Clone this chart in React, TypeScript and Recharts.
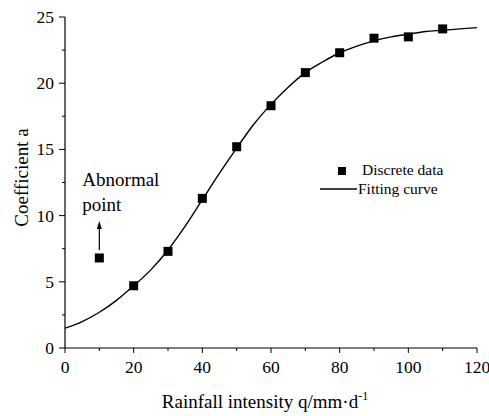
import React from "react";
import { ComposedChart, Line, Scatter, XAxis, YAxis, ReferenceLine } from "recharts";

// measured coefficient a per rainfall intensity
const rainfall = [10, 20, 30, 40, 50, 60, 70, 80, 90, 100, 110];
const coefficient = [6.8, 4.7, 7.3, 11.3, 15.2, 18.3, 20.8, 22.3, 23.4, 23.5, 24.1];

// fitted curve
const curveX = [0, 5, 10, 15, 20, 25, 30, 35, 40, 45, 50, 55, 60, 65, 70, 75, 80, 85, 90, 95, 100, 105, 110, 115, 120];
const curveY = [1.5, 2.0, 2.7, 3.6, 4.7, 5.9, 7.4, 9.2, 11.2, 13.2, 15.1, 16.9, 18.4, 19.7, 20.8, 21.6, 22.3, 22.8, 23.2, 23.5, 23.7, 23.9, 24.0, 24.1, 24.2];

const xTicks = [0, 10, 20, 30, 40, 50, 60, 70, 80, 90, 100, 110, 120];
const yTicks = [0, 2.5, 5, 7.5, 10, 12.5, 15, 17.5, 20, 22.5, 25];

const points = rainfall.map((x, i) => ({ x, y: coefficient[i] }));
const curve = curveX.map((x, i) => ({ x, y: curveY[i] }));

const FONT = '"Liberation Serif", "Times New Roman", "DejaVu Serif", serif';
const txt = { fontFamily: FONT };

const XTick = (props: any) => {
  const { x, y, payload } = props;
  const major = payload.value % 20 === 0;
  return (
    <g>
      <line x1={x} x2={x} y1={y} y2={y + (major ? 5 : 3)} stroke="#000" strokeWidth={1} />
      {major && (
        <text x={x} y={y + 25} textAnchor="middle" fontSize={17.5} style={txt} fill="#000">
          {payload.value}
        </text>
      )}
    </g>
  );
};

const YTick = (props: any) => {
  const { x, y, payload } = props;
  const major = payload.value % 5 === 0;
  return (
    <g>
      <line x1={x} x2={x - (major ? 6 : 3)} y1={y} y2={y} stroke="#000" strokeWidth={1} />
      {major && (
        <text x={x - 11} y={y + 6} textAnchor="end" fontSize={17.5} style={txt} fill="#000">
          {payload.value}
        </text>
      )}
    </g>
  );
};

const SquareDot = (props: any) => {
  const { cx, cy } = props;
  return <rect x={cx - 4.5} y={cy - 4.5} width={9} height={9} fill="#000" />;
};

const ArrowNote = (props: any) => {
  const { x1, y1, x2, y2 } = props;
  const top = Math.min(y1, y2);
  const bottom = Math.max(y1, y2);
  return (
    <g>
      <line x1={x1} x2={x2} y1={bottom} y2={top + 6} stroke="#000" strokeWidth={1.2} />
      <polygon points={`${x1},${top} ${x1 - 2.5},${top + 8} ${x1 + 2.5},${top + 8}`} fill="#000" />
      <text x={x1 - 17} y={top - 35} fontSize={19} style={txt} fill="#000">Abnormal</text>
      <text x={x1 - 17} y={top - 10} fontSize={19} style={txt} fill="#000">point</text>
    </g>
  );
};

const LegendBox = () => (
  <svg width={180} height={50} style={{ position: "absolute", left: 310, top: 155 }}>
    <rect x={28} y={12} width={8} height={8} fill="#000" />
    <text x={52} y={20} fontSize={15.5} style={txt} fill="#000">Discrete data</text>
    <line x1={10} x2={47} y1={34} y2={34} stroke="#000" strokeWidth={1.3} />
    <text x={48} y={39} fontSize={15.5} style={txt} fill="#000">Fitting curve</text>
  </svg>
);

export default function App() {
  return (
    <div style={{ position: "absolute", left: 0, top: 0, width: 489, height: 416, background: "#fff", fontFamily: FONT }}>
      <ComposedChart width={489} height={416} margin={{ top: 17, right: 12, bottom: 0, left: 0 }}>
        <XAxis
          type="number"
          dataKey="x"
          domain={[0, 120]}
          ticks={xTicks}
          interval={0}
          tickSize={0}
          tickMargin={0}
          tick={<XTick />}
          height={68}
          axisLine={{ stroke: "#000", strokeWidth: 1.2 }}
          allowDataOverflow
          label={(p: any) => {
            const vb = p.viewBox;
            return (
              <text x={vb.x + vb.width / 2 - 6} y={vb.y + 60} textAnchor="middle" fontSize={19} style={txt} fill="#000">
                Rainfall intensity q/mm·d
                <tspan fontSize={12} dy={-8}>-1</tspan>
              </text>
            );
          }}
        />
        <YAxis
          type="number"
          dataKey="y"
          domain={[0, 25]}
          ticks={yTicks}
          interval={0}
          tickSize={0}
          tickMargin={0}
          tick={<YTick />}
          width={65}
          axisLine={{ stroke: "#000", strokeWidth: 1.2 }}
          allowDataOverflow
          label={(p: any) => {
            const vb = p.viewBox;
            const cx = 28;
            const cy = vb.y + vb.height / 2 - 5;
            return (
              <text x={cx} y={cy} transform={`rotate(-90 ${cx} ${cy})`} textAnchor="middle" fontSize={19} style={txt} fill="#000">
                Coefficient a
              </text>
            );
          }}
        />
        <Line
          data={curve}
          dataKey="y"
          type="monotone"
          stroke="#000"
          strokeWidth={1.4}
          dot={false}
          activeDot={false}
          isAnimationActive={false}
        />
        <Scatter data={points} dataKey="y" shape={<SquareDot />} isAnimationActive={false} />
        <ReferenceLine
          segment={[{ x: 10, y: 7.4 }, { x: 10, y: 9.6 }]}
          shape={<ArrowNote />}
          ifOverflow="visible"
        />
      </ComposedChart>
      <LegendBox />
    </div>
  );
}
